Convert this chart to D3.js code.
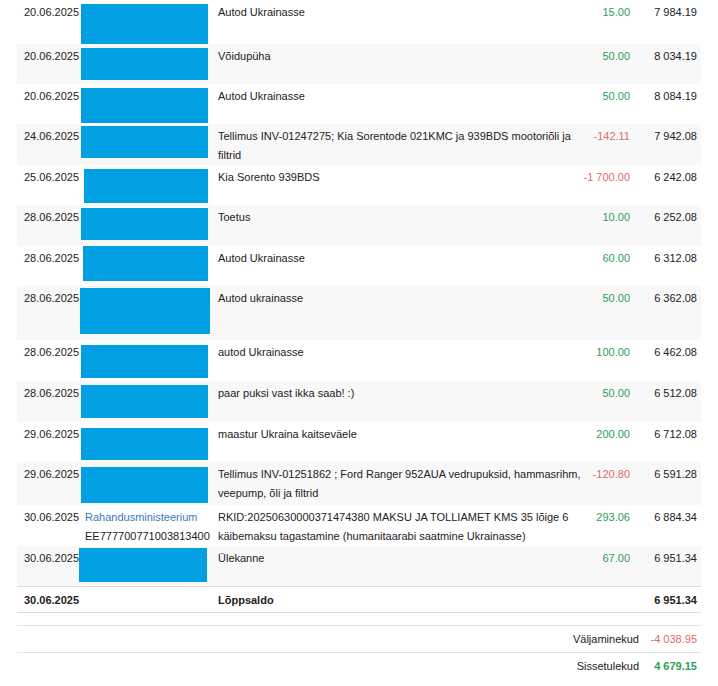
<!DOCTYPE html>
<html><head><meta charset="utf-8">
<script src="https://cdn.jsdelivr.net/npm/d3@7"></script>
<style>body{margin:0;background:#fff}text{font-family:"Liberation Sans",Arial,sans-serif;font-size:11px;fill:#222}</style>
</head><body><div id="chart"></div>
<script>
var dates = ["20.06.2025","20.06.2025","20.06.2025","24.06.2025","25.06.2025","28.06.2025","28.06.2025","28.06.2025","28.06.2025","28.06.2025","29.06.2025","29.06.2025","30.06.2025","30.06.2025"];
var descriptions = [
  ["Autod Ukrainasse"],["Võidupüha"],["Autod Ukrainasse"],
  ["Tellimus INV-01247275; Kia Sorentode 021KMC ja 939BDS mootoriõli ja","filtrid"],
  ["Kia Sorento 939BDS"],["Toetus"],["Autod Ukrainasse"],["Autod ukrainasse"],
  ["autod Ukrainasse"],["paar puksi vast ikka saab! :)"],["maastur Ukraina kaitseväele"],
  ["Tellimus INV-01251862 ; Ford Ranger 952AUA vedrupuksid, hammasrihm,","veepump, õli ja filtrid"],
  ["RKID:20250630000371474380 MAKSU JA TOLLIAMET KMS 35 lõige 6","käibemaksu tagastamine (humanitaarabi saatmine Ukrainasse)"],
  ["Ülekanne"]];
var amounts = [15.00,50.00,50.00,-142.11,-1700.00,10.00,60.00,50.00,100.00,50.00,200.00,-120.80,293.06,67.00];
var balances = [7984.19,8034.19,8084.19,7942.08,6242.08,6252.08,6312.08,6362.08,6462.08,6512.08,6712.08,6591.28,6884.34,6951.34];
var counterparty = {12: ["Rahandusministeerium","EE777700771003813400"]};
var rowHeights = [44,40,40,41,40,41,40,54,41,41,40,43,41,40];
var boxes = [[81,4,127,40],[81,48,127,32],[81,88,127,35],[81,126,127,32],[84,169,124,34],[81,208,127,32],[83,246,125,35],[80,288,130,46],[81,345,127,33],[81,385,127,33],[81,428,127,32],[81,467,127,36],null,[79,548,128,34]];
var endDate = "30.06.2025", endLabel = "Lõppsaldo", endBalance = 6951.34;
var summaryLabels = ["Väljaminekud","Sissetulekud"], summaryValues = [-4038.95,4679.15];

var W = 718, H = 686, L = 17, R = 701;
var fmt = function(v){ var s = d3.format(",.2f")(Math.abs(v)).replace(/,/g," "); return (v<0?"-":"")+s; };
var svg = d3.select("#chart").append("svg").attr("width",W).attr("height",H);

var tops = [0]; rowHeights.forEach(function(h,i){ tops.push(tops[i]+h); });
var rows = svg.selectAll("g.row").data(dates).enter().append("g")
  .attr("transform",function(d,i){ return "translate(0,"+tops[i]+")"; });
rows.append("rect").attr("x",L).attr("width",R-L).attr("height",function(d,i){return rowHeights[i];})
  .attr("fill",function(d,i){ return i%2 ? "#f8f8f8" : "#fff"; });
rows.append("text").attr("x",24).attr("y",16).text(function(d){return d;});
rows.each(function(d,i){
  var g = d3.select(this);
  descriptions[i].forEach(function(t,j){ g.append("text").attr("x",218).attr("y",16+j*19).text(t); });
  if (counterparty[i]) {
    g.append("text").attr("x",85).attr("y",16).style("fill","#3a78b8").text(counterparty[i][0]);
    g.append("text").attr("x",85).attr("y",35).text(counterparty[i][1]);
  }
});
rows.append("text").attr("x",630).attr("y",16).attr("text-anchor","end")
  .style("fill",function(d,i){return amounts[i]<0?"#e06a6a":"#2e9e5b";}).text(function(d,i){return fmt(amounts[i]);});
rows.append("text").attr("x",697).attr("y",16).attr("text-anchor","end").text(function(d,i){return fmt(balances[i]);});

svg.selectAll("rect.box").data(boxes.filter(Boolean)).enter().append("rect")
  .attr("x",function(b){return b[0];}).attr("y",function(b){return b[1];})
  .attr("width",function(b){return b[2];}).attr("height",function(b){return b[3];}).attr("fill","#00a0e3");

var ty = tops[tops.length-1];
svg.append("line").attr("x1",L).attr("x2",R).attr("y1",ty+0.5).attr("y2",ty+0.5).attr("stroke","#ddd");
svg.append("line").attr("x1",L).attr("x2",R).attr("y1",ty+26.5).attr("y2",ty+26.5).attr("stroke","#ddd");
var tot = svg.append("g").attr("transform","translate(0,"+ty+")").style("font-weight","bold");
tot.append("text").attr("x",24).attr("y",18).style("font-weight","bold").text(endDate);
tot.append("text").attr("x",218).attr("y",18).style("font-weight","bold").text(endLabel);
tot.append("text").attr("x",697).attr("y",18).attr("text-anchor","end").style("font-weight","bold").text(fmt(endBalance));

var sy = 625;
summaryLabels.forEach(function(lab,i){
  var y = sy + i*27;
  svg.append("line").attr("x1",L).attr("x2",R).attr("y1",y+0.5).attr("y2",y+0.5).attr("stroke","#e3e3e3");
  svg.append("text").attr("x",639).attr("y",y+18).attr("text-anchor","end").text(lab);
  svg.append("text").attr("x",697).attr("y",y+18).attr("text-anchor","end").style("font-weight",i?"bold":"normal")
    .style("fill",summaryValues[i]<0?"#e06a6a":"#2e9e5b").text(fmt(summaryValues[i]));
});
</script></body></html>
